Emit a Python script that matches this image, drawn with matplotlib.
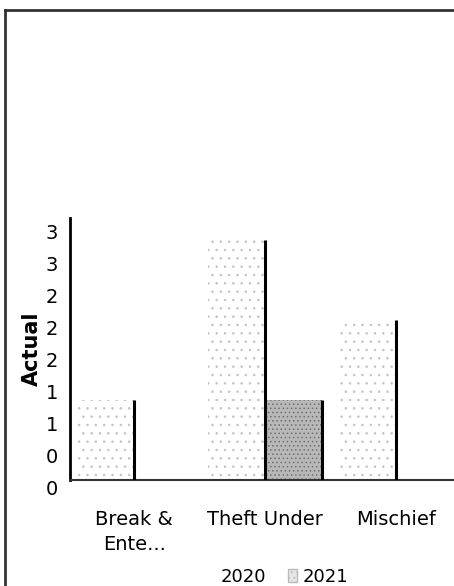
import numpy as np
import matplotlib
matplotlib.use("Agg")
import matplotlib.pyplot as plt
from matplotlib.lines import Line2D
from matplotlib.patches import Patch
from matplotlib.transforms import ScaledTranslation

# data
categories = ["Break &\nEnte...", "Theft Under", "Mischief"]
actual_2020 = [1, 3, 2]
actual_2021 = [0, 1, 0]
series_names = ["2020", "2021"]
y_ticks = [0, 0.4, 0.8, 1.2, 1.6, 2.0, 2.4, 2.8, 3.2]

plt.rcParams['font.family'] = ['DejaVu Sans']
plt.rcParams['hatch.linewidth'] = 0.6

fig = plt.figure(figsize=(4.54, 5.86), dpi=100)
ax = fig.add_axes([0.154, 0.181, 0.846, 0.447])

x = np.arange(len(categories))
w = 0.435

# 2020 bars: faint dotted fill, dark right edge
ax.bar(x - w / 2, actual_2020, width=w, facecolor='white',
       edgecolor='#c4c4c4', linewidth=0, hatch='..', zorder=2)
ax.vlines(x, 0, actual_2020, color='black', linewidth=2.2, zorder=3)

# 2021 bars: grey stipple, dark right edge
ax.bar(x + w / 2, actual_2021, width=w, facecolor='#b8b8b8',
       edgecolor='#707070', linewidth=0, hatch='....', zorder=2)
ax.vlines(x + w, 0, actual_2021, color='black', linewidth=2.2, zorder=3)

ax.set_xlim(-0.49, 2.44)
ax.set_ylim(0, 3.275)
ax.set_yticks(y_ticks)
ax.set_yticklabels(["%.0f" % v for v in y_ticks])
ax.set_xticks(x)
ax.set_xticklabels(categories, linespacing=1.35)
ax.tick_params(axis='both', length=0, labelsize=14)
ax.tick_params(axis='y', pad=8.5)
ax.tick_params(axis='x', pad=22)

# tick labels in the original sit a little below their ticks
off = ScaledTranslation(0, -8 / 100, fig.dpi_scale_trans)
for lab in ax.get_yticklabels():
    lab.set_transform(lab.get_transform() + off)

ax.set_ylabel("Actual", fontsize=15, fontweight='bold', labelpad=3)

for s in ['top', 'right']:
    ax.spines[s].set_visible(False)
ax.spines['left'].set_linewidth(2)
ax.spines['left'].set_color('black')
ax.spines['bottom'].set_linewidth(1.5)
ax.spines['bottom'].set_color('#333333')

handles = [Patch(facecolor='white', edgecolor='white'),
           Patch(facecolor='#e6e6e6', edgecolor='#bbbbbb', hatch='...')]
fig.legend(handles, series_names, loc='center', bbox_to_anchor=(0.61, 0.016),
           ncol=2, frameon=False, fontsize=13, handlelength=0.5,
           handletextpad=0.3, columnspacing=1.2)

# scanned page frame (top and left edges)
fig.add_artist(Line2D([5 / 454, 5 / 454], [0, 1 - 10 / 586],
                      transform=fig.transFigure, color='#333333', linewidth=2))
fig.add_artist(Line2D([5 / 454, 1], [1 - 10 / 586, 1 - 10 / 586],
                      transform=fig.transFigure, color='#333333', linewidth=2))

fig.savefig("out.png", dpi=100)
